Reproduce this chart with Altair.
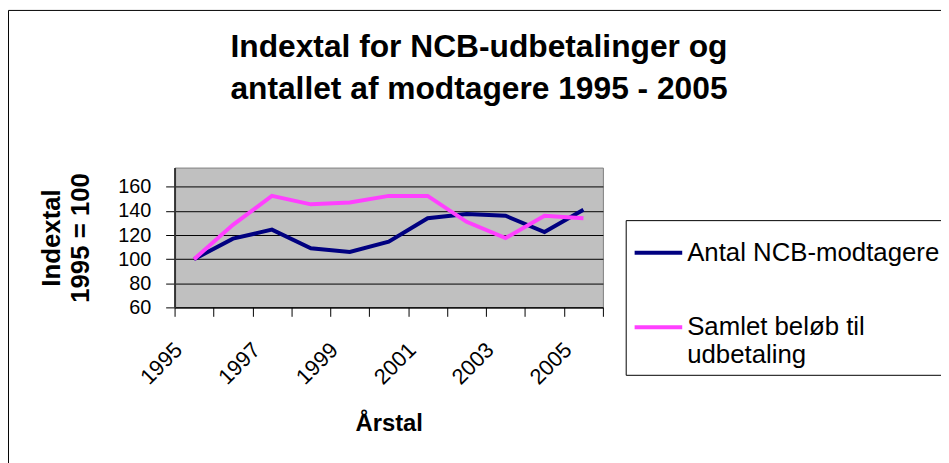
import altair as alt
import pandas as pd

years = ["1995", "1996", "1997", "1998", "1999", "2000", "2001", "2002", "2003", "2004", "2005"]
antal = [100, 117, 124.5, 109, 106, 114.5, 134, 137.5, 136, 122.5, 141]
samlet = [100, 128.5, 152.5, 145.5, 147, 152.5, 152.5, 131, 117.5, 136, 134]
series_names = ["Antal NCB-modtagere", "Samlet beløb til udbetaling"]
y_ticks = [60, 80, 100, 120, 140, 160]

rows = []
for name, vals in zip(series_names, [antal, samlet]):
    for yr, v in zip(years, vals):
        rows.append({"year": yr, "value": v, "series": name})
df = pd.DataFrame(rows)

FONT = "Arial"

lines = alt.Chart(df).mark_line(strokeWidth=4).encode(
    x=alt.X(
        "year:O",
        bandPosition=0.5,
        scale=alt.Scale(type="band", paddingInner=0, paddingOuter=0),
        axis=alt.Axis(
            title="Årstal",
            labelAngle=-45,
            labelAlign="right",
            labelBaseline="middle",
            labelPadding=30,
            labelOffset=-16,
            tickBand="extent",
            labelExpr="toNumber(datum.value) % 2 == 1 ? datum.label : ''",
            tickSize=9,
            tickColor="black",
            domainColor="black",
            labelFontSize=22,
            labelFont=FONT,
            labelColor="black",
            titleFont=FONT,
            titleFontSize=24,
            titleFontWeight="bold",
            titleColor="black",
            titlePadding=24,
            grid=False,
        ),
    ),
    y=alt.Y(
        "value:Q",
        scale=alt.Scale(domain=[60, 176], nice=False, zero=False),
        axis=alt.Axis(
            values=y_ticks,
            title=["Indextal", "1995 = 100"],
            grid=True,
            gridColor="black",
            gridOpacity=1,
            tickSize=9,
            tickColor="black",
            domainColor="#333333",
            domainWidth=2,
            labelFontSize=20,
            labelFont=FONT,
            labelColor="black",
            labelPadding=15,
            titleFont=FONT,
            titleFontSize=26,
            titleFontWeight="bold",
            titleColor="black",
            titleLineHeight=30,
            titlePadding=24,
        ),
    ),
    color=alt.Color(
        "series:N",
        scale=alt.Scale(domain=series_names, range=["#000080", "#FF40FF"]),
        legend=alt.Legend(
            orient="none",
            legendX=455,
            legendY=53,
            title=None,
            strokeColor="black",
            fillColor="white",
            padding=7,
            labelFontSize=26,
            labelFont=FONT,
            labelColor="black",
            labelLimit=500,
            symbolType="stroke",
            symbolStrokeWidth=4,
            symbolSize=2304,
            labelOffset=3,
            rowPadding=36,
            labelExpr="datum.label == 'Samlet beløb til udbetaling' ? ['Samlet beløb til', 'udbetaling'] : datum.label",
        ),
    ),
)

border_df = pd.DataFrame({"k": [0]})
border = alt.Chart(border_df).mark_rect(fillOpacity=0, stroke="black", strokeWidth=1).encode(
    x=alt.value(-167.5), x2=alt.value(900), y=alt.value(-158.5), y2=alt.value(400)
)

chart = alt.layer(border, lines).properties(
    width=432,
    height=141,
    background="white",
    autosize=alt.AutoSizeParams(type="none"),
    padding={"left": 168, "top": 159, "right": 341, "bottom": 155},
    title=alt.TitleParams(
        text=["Indextal for NCB-udbetalinger og", "antallet af modtagere 1995 - 2005"],
        anchor="middle",
        frame="group",
        dx=91,
        offset=-97,
        font=FONT,
        fontSize=32,
        fontWeight="bold",
        lineHeight=43,
        color="black",
    ),
).configure_view(fill="#C0C0C0", stroke="#808080")

chart.save("out.html", embed_options={"renderer": "svg", "actions": False})
